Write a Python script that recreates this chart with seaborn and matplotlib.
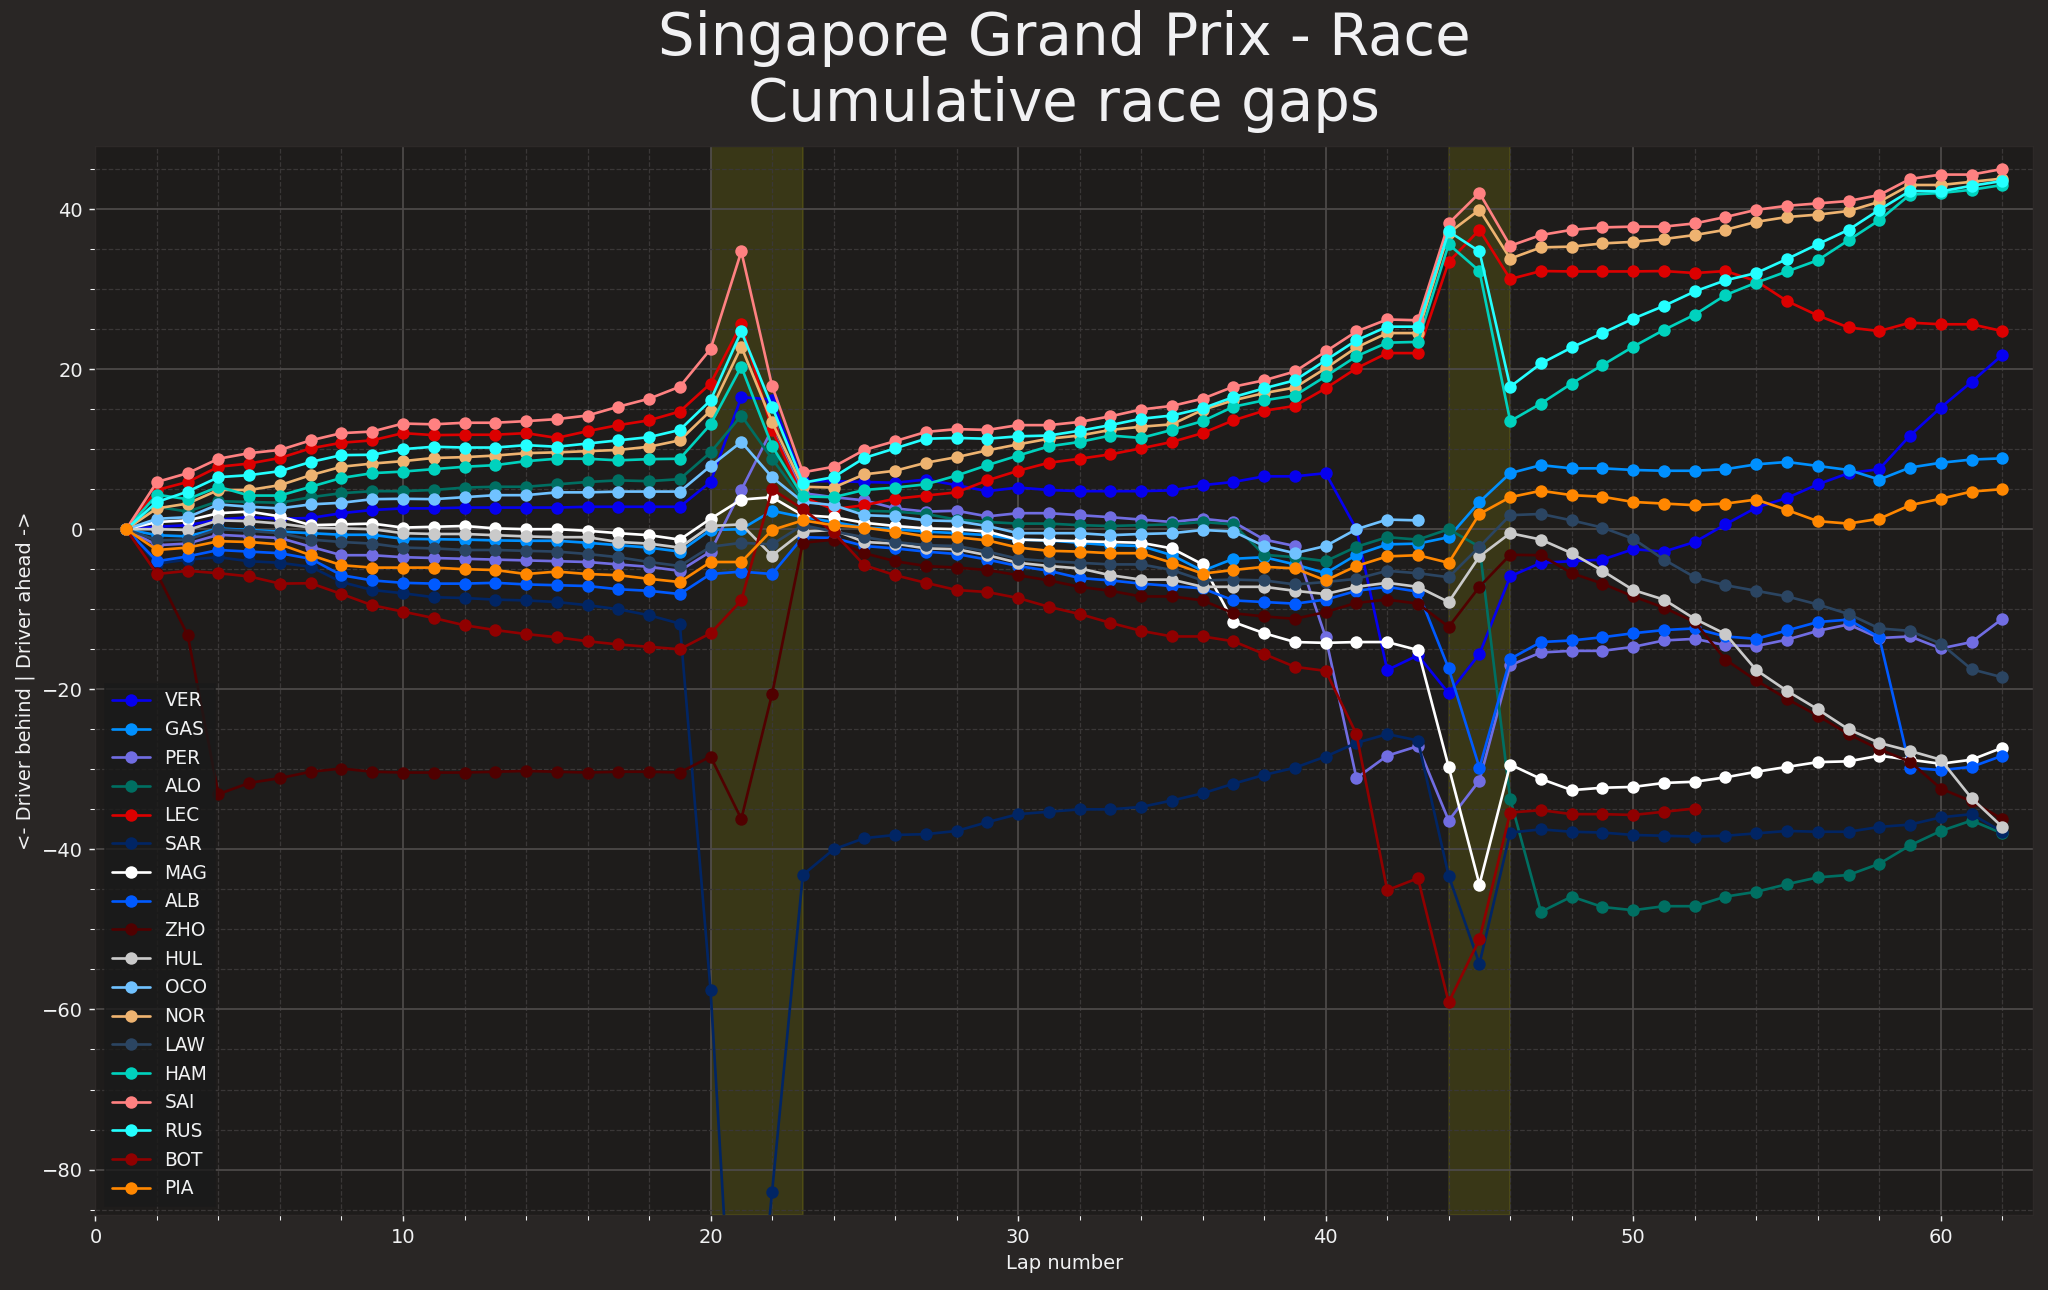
import numpy as np
import pandas as pd
import matplotlib
matplotlib.use("Agg")
import matplotlib.pyplot as plt
import seaborn as sns
from matplotlib.lines import Line2D
from matplotlib.ticker import MultipleLocator

# driver order as in the legend, colours per driver
drivers = ["VER", "GAS", "PER", "ALO", "LEC", "SAR", "MAG", "ALB", "ZHO",
           "HUL", "OCO", "NOR", "LAW", "HAM", "SAI", "RUS", "BOT", "PIA"]
driver_colors = ["#0600ef", "#0090ff", "#716de2", "#006f62", "#dc0000", "#012564",
                 "#ffffff", "#005aff", "#500000", "#cacaca", "#70c2ff", "#eeb370",
                 "#2b4562", "#00d2be", "#ff8181", "#24ffff", "#900000", "#ff8700"]

# cumulative gap per lap (lap 1 first), seconds
VER = [0, 0.3, 0.5, 1.2, 1.5, 1.3, 1.4, 2.0, 2.4, 2.6, 2.6, 2.7, 2.7, 2.7, 2.7, 2.8, 2.8, 2.8, 2.8, 5.9,
       16.5, 16.2, 6.0, 6.0, 5.9, 5.8, 6.2, 5.5, 4.75, 5.2, 4.9, 4.75, 4.75, 4.75, 4.85, 5.5, 5.9, 6.6, 6.6, 7.0,
       0.0, -17.6, -15.75, -20.5, -15.6, -5.9, -4.2, -4.0, -3.8, -2.5, -2.8, -1.6, 0.6, 2.7, 3.9, 5.6, 7.0, 7.5, 11.7, 15.2,
       18.4, 21.75]
GAS = [0, -0.75, -0.9, 0.1, -0.1, -0.3, -0.5, -0.7, -0.7, -1.2, -1.25, -1.3, -1.4, -1.45, -1.45, -1.7, -2.0, -2.3, -2.8, -0.1,
       0.0, 2.3, 1.5, 0.9, 0.2, 0.0, -0.3, -0.5, -0.75, -1.3, -1.4, -1.7, -2.0, -2.1, -3.25, -5.2, -3.7, -3.5, -4.4, -5.5,
       -3.2, -1.9, -1.8, -1.0, 3.4, 7.0, 8.0, 7.6, 7.6, 7.4, 7.3, 7.3, 7.5, 8.1, 8.4, 7.9, 7.4, 6.2, 7.7, 8.3,
       8.7, 8.85]
PER = [0, -2.0, -1.8, -0.7, -0.9, -1.1, -2.2, -3.25, -3.25, -3.5, -3.6, -3.7, -3.8, -3.9, -4.0, -4.1, -4.4, -4.7, -5.2, -2.8,
       4.9, 12.5, 4.5, 4.0, 3.6, 2.6, 2.2, 2.3, 1.6, 2.0, 2.0, 1.75, 1.5, 1.2, 0.9, 1.3, 0.9, -1.3, -2.1, -13.5,
       -31.1, -28.3, -27.1, -36.4, -31.4, -17.0, -15.4, -15.2, -15.2, -14.7, -13.9, -13.7, -14.5, -14.6, -13.8, -12.7, -11.9, -13.6, -13.4, -14.9,
       -14.1, -11.2]
ALO = [0, 2.8, 2.2, 3.5, 3.4, 3.3, 4.0, 4.5, 4.75, 4.75, 4.9, 5.2, 5.3, 5.3, 5.6, 5.9, 6.1, 6.0, 6.25, 9.6,
       14.2, 8.8, 3.6, 2.8, 2.3, 2.2, 1.9, 1.2, 0.9, 0.7, 0.7, 0.5, 0.4, 0.5, 0.6, 0.9, 0.6, -3.2, -3.5, -4.0,
       -2.2, -1.0, -1.3, 0.0, -2.2, -33.7, -47.8, -45.9, -47.2, -47.6, -47.1, -47.1, -45.9, -45.3, -44.35, -43.5, -43.2, -41.8, -39.5, -37.7,
       -36.4, -38.0]
LEC = [0, 4.9, 5.9, 7.8, 8.2, 8.9, 10.1, 10.8, 11.1, 12.0, 11.75, 11.8, 11.8, 12.0, 11.4, 12.25, 13.0, 13.6, 14.7, 18.2,
       25.6, 12.4, 4.0, 2.5, 3.0, 3.8, 4.2, 4.6, 6.1, 7.3, 8.3, 8.8, 9.35, 10.1, 10.9, 12.0, 13.6, 14.8, 15.4, 17.6,
       20.1, 22.0, 22.0, 33.4, 37.4, 31.25, 32.25, 32.2, 32.2, 32.2, 32.25, 32.0, 32.25, 31.0, 28.5, 26.7, 25.2, 24.75, 25.8, 25.6,
       25.6, 24.75]
SAR = [0, -4.3, -3.8, -3.5, -4.0, -4.2, -4.7, -6.6, -7.6, -8.0, -8.5, -8.6, -8.8, -8.9, -9.1, -9.5, -10.0, -10.75, -11.8, -57.6,
       -122.0, -82.8, -43.2, -40.0, -38.6, -38.2, -38.1, -37.7, -36.6, -35.6, -35.3, -35.0, -35.0, -34.7, -33.9, -33.0, -31.8, -30.7, -29.8, -28.4,
       -26.7, -25.6, -26.4, -43.3, -54.3, -37.9, -37.5, -37.8, -37.9, -38.2, -38.3, -38.4, -38.3, -38.0, -37.7, -37.8, -37.8, -37.2, -36.9, -36.0,
       -35.6, -37.8]
MAG = [0, 0.9, 1.1, 2.0, 2.2, 1.6, 0.5, 0.6, 0.7, 0.2, 0.3, 0.4, 0.1, 0.0, 0.0, -0.2, -0.5, -0.75, -1.3, 1.3,
       3.7, 4.0, 1.75, 1.5, 0.8, 0.4, 0.1, 0.0, -0.3, -1.3, -1.4, -1.5, -1.6, -1.7, -2.4, -4.4, -11.6, -13.0, -14.1, -14.2,
       -14.1, -14.1, -15.1, -29.7, -44.4, -29.4, -31.2, -32.6, -32.3, -32.2, -31.7, -31.55, -31.0, -30.3, -29.7, -29.1, -29.0, -28.3, -28.8, -29.3,
       -28.8, -27.3]
ALB = [0, -4.0, -3.4, -2.6, -2.8, -3.0, -3.7, -5.75, -6.4, -6.7, -6.8, -6.8, -6.7, -6.9, -7.0, -7.1, -7.5, -7.7, -8.1, -5.6,
       -5.3, -5.6, -1.0, -1.1, -2.1, -2.4, -2.8, -3.1, -3.8, -4.6, -5.2, -6.1, -6.4, -6.8, -7.1, -7.4, -8.9, -9.1, -9.3, -8.8,
       -7.7, -7.2, -7.8, -17.4, -29.8, -16.2, -14.1, -13.9, -13.5, -13.0, -12.6, -12.4, -13.4, -13.7, -12.65, -11.6, -11.3, -13.5, -29.8, -30.1,
       -29.7, -28.3]
ZHO = [0, -5.5, -13.25, -33.1, -31.7, -31.1, -30.3, -29.9, -30.3, -30.4, -30.4, -30.4, -30.3, -30.2, -30.3, -30.4, -30.3, -30.3, -30.4, -28.4,
       -36.2, -20.6, -1.7, -1.3, -3.0, -4.0, -4.6, -4.8, -5.1, -5.75, -6.4, -7.2, -7.7, -8.4, -8.4, -8.9, -10.5, -10.9, -11.2, -10.35,
       -9.2, -8.8, -9.3, -12.2, -7.2, -3.2, -3.25, -5.5, -6.8, -8.4, -9.8, -11.6, -16.3, -18.9, -21.2, -23.3, -25.6, -27.5, -29.05, -32.4,
       -34.0, -36.2]
HUL = [0, 0.0, -0.1, 1.1, 1.0, 0.7, 0.2, 0.1, 0.0, -0.5, -0.6, -0.6, -0.75, -0.9, -1.0, -1.0, -1.6, -1.8, -2.3, 0.4,
       0.6, -3.3, -0.3, -0.1, -1.6, -1.8, -2.4, -2.5, -3.25, -4.2, -4.6, -4.9, -5.75, -6.3, -6.3, -7.2, -7.2, -7.2, -7.7, -8.1,
       -7.2, -6.7, -7.2, -9.1, -3.4, -0.5, -1.3, -3.0, -5.2, -7.6, -8.8, -11.2, -13.1, -17.6, -20.2, -22.5, -25.0, -26.7, -27.7, -28.8,
       -33.6, -37.2]
OCO = [0, 1.3, 1.5, 3.1, 2.8, 2.6, 3.1, 3.3, 3.75, 3.8, 3.75, 4.0, 4.25, 4.25, 4.6, 4.6, 4.7, 4.7, 4.7, 7.9,
       10.9, 6.5, 3.4, 3.0, 1.75, 1.6, 1.1, 1.0, 0.4, -0.5, -0.5, -0.5, -0.75, -0.6, -0.5, -0.1, -0.3, -2.1, -3.0, -2.1,
       0.0, 1.2, 1.1]
NOR = [0, 2.6, 3.2, 4.9, 4.9, 5.5, 6.75, 7.8, 8.2, 8.5, 8.9, 9.0, 9.2, 9.5, 9.6, 9.75, 9.9, 10.3, 11.1, 14.8,
       22.8, 13.4, 5.3, 5.2, 6.85, 7.3, 8.3, 9.0, 9.85, 10.6, 11.3, 11.7, 12.4, 12.8, 13.1, 14.9, 16.1, 17.0, 17.7, 20.1,
       22.7, 24.5, 24.5, 37.0, 39.9, 33.8, 35.2, 35.3, 35.7, 35.9, 36.25, 36.75, 37.4, 38.4, 39.0, 39.3, 39.75, 40.9, 43.0, 43.0,
       43.4, 43.8]
LAW = [0, -1.4, -1.3, 0.0, -0.2, -0.5, -1.3, -1.6, -1.8, -2.3, -2.4, -2.6, -2.6, -2.7, -2.8, -3.1, -3.5, -4.1, -4.6, -2.2,
       -1.7, -1.9, 0.5, -0.3, -1.0, -1.6, -2.0, -2.1, -2.8, -3.7, -4.0, -4.2, -4.4, -4.4, -5.1, -6.4, -6.3, -6.4, -6.9, -6.6,
       -6.2, -5.2, -5.5, -6.0, -2.2, 1.75, 1.9, 1.1, 0.2, -1.2, -3.8, -6.0, -7.0, -7.7, -8.4, -9.4, -10.6, -12.4, -12.7, -14.3,
       -17.5, -18.5]
HAM = [0, 4.3, 3.75, 5.3, 4.2, 4.2, 5.3, 6.4, 7.0, 7.2, 7.5, 7.8, 8.0, 8.5, 8.8, 8.8, 8.6, 8.75, 8.8, 13.1,
       20.3, 10.4, 4.1, 4.0, 4.9, 5.2, 5.6, 6.7, 8.0, 9.2, 10.35, 10.9, 11.7, 11.4, 12.4, 13.5, 15.3, 16.1, 16.7, 19.1,
       21.6, 23.3, 23.4, 35.6, 32.25, 13.5, 15.7, 18.2, 20.5, 22.8, 24.9, 26.8, 29.25, 30.8, 32.2, 33.6, 36.1, 38.6, 41.8, 42.0,
       42.4, 43.0]
SAI = [0, 5.9, 7.0, 8.8, 9.5, 9.9, 11.1, 12.0, 12.2, 13.2, 13.1, 13.3, 13.3, 13.5, 13.75, 14.2, 15.3, 16.3, 17.8, 22.5,
       34.7, 17.9, 7.1, 7.8, 9.9, 11.0, 12.15, 12.5, 12.4, 13.0, 13.0, 13.4, 14.1, 14.95, 15.4, 16.3, 17.8, 18.6, 19.7, 22.2,
       24.7, 26.2, 26.1, 38.2, 42.0, 35.4, 36.75, 37.4, 37.7, 37.8, 37.8, 38.2, 39.0, 39.9, 40.4, 40.7, 41.0, 41.75, 43.75, 44.3,
       44.3, 45.0]
RUS = [0, 3.4, 4.7, 6.5, 6.75, 7.25, 8.4, 9.25, 9.3, 10.0, 10.3, 10.2, 10.2, 10.5, 10.3, 10.7, 11.1, 11.5, 12.4, 16.1,
       24.7, 15.3, 5.8, 6.5, 8.9, 10.1, 11.3, 11.4, 11.3, 11.6, 11.7, 12.3, 13.0, 13.8, 14.2, 15.1, 16.5, 17.6, 18.6, 21.1,
       23.6, 25.3, 25.3, 37.2, 34.7, 17.8, 20.7, 22.7, 24.5, 26.3, 27.9, 29.7, 31.1, 32.0, 33.75, 35.6, 37.4, 39.9, 42.25, 42.2,
       42.9, 43.5]
BOT = [0, -5.6, -5.2, -5.5, -5.9, -6.8, -6.75, -8.1, -9.5, -10.3, -11.1, -12.0, -12.6, -13.1, -13.5, -14.0, -14.4, -14.7, -15.0, -13.0,
       -8.9, 5.0, 2.5, -0.4, -4.5, -5.75, -6.7, -7.6, -7.85, -8.6, -9.7, -10.6, -11.7, -12.7, -13.4, -13.4, -14.0, -15.6, -17.2, -17.7,
       -25.6, -45.1, -43.6, -59.1, -51.25, -35.4, -35.1, -35.6, -35.6, -35.7, -35.3, -34.9]
PIA = [0, -2.6, -2.3, -1.5, -1.6, -1.9, -3.25, -4.5, -4.8, -4.8, -4.8, -5.0, -5.1, -5.6, -5.3, -5.6, -5.75, -6.2, -6.6, -4.1,
       -4.1, -0.1, 1.1, 0.5, 0.2, -0.3, -0.9, -1.0, -1.4, -2.3, -2.7, -2.8, -3.0, -3.0, -4.2, -5.55, -5.1, -4.7, -4.9, -6.4,
       -4.6, -3.4, -3.25, -4.2, 1.9, 4.0, 4.8, 4.25, 4.05, 3.4, 3.2, 3.0, 3.2, 3.7, 2.4, 1.0, 0.7, 1.3, 3.0, 3.8,
       4.7, 5.0]

# safety car / vsc periods (lap ranges)
sc_periods = [(20, 23), (44, 46)]

gaps = {"VER": VER, "GAS": GAS, "PER": PER, "ALO": ALO, "LEC": LEC, "SAR": SAR,
        "MAG": MAG, "ALB": ALB, "ZHO": ZHO, "HUL": HUL, "OCO": OCO, "NOR": NOR,
        "LAW": LAW, "HAM": HAM, "SAI": SAI, "RUS": RUS, "BOT": BOT, "PIA": PIA}

rows = []
for drv in drivers:
    for lap, gap in enumerate(gaps[drv], start=1):
        rows.append((drv, lap, gap))
df = pd.DataFrame(rows, columns=["Driver", "LapNumber", "Gap"])

sns.set_style("dark")
plt.rcParams.update({
    "figure.facecolor": "#292625",
    "axes.facecolor": "#1e1c1b",
    "axes.edgecolor": "#2d2928",
    "xtick.color": "#f1f2f3",
    "ytick.color": "#f1f2f3",
    "axes.labelcolor": "#f1f2f3",
    "text.color": "#f1f1f3",
    "font.family": ["DejaVu Sans"],
})

fig, ax = plt.subplots(figsize=(16, 10.078125), dpi=128)
fig.subplots_adjust(left=0.0466, right=0.9927, top=0.887, bottom=0.058)

palette = dict(zip(drivers, driver_colors))
sns.lineplot(data=df, x="LapNumber", y="Gap", hue="Driver", hue_order=drivers,
             palette=palette, marker="o", markersize=7, markeredgewidth=0,
             linewidth=1.5, legend=False, errorbar=None, ax=ax)

for start, end in sc_periods:
    ax.axvspan(start, end, color="yellow", alpha=0.12, zorder=0.5)

ax.set_xlim(0, 63)
ax.set_ylim(-85.7, 47.9)
ax.xaxis.set_major_locator(MultipleLocator(10))
ax.xaxis.set_minor_locator(MultipleLocator(2))
ax.yaxis.set_major_locator(MultipleLocator(20))
ax.yaxis.set_minor_locator(MultipleLocator(5))
ax.tick_params(which="both", direction="out", bottom=True, left=True, labelsize=11)
ax.tick_params(which="minor", length=3)
ax.set_axisbelow(True)
ax.grid(which="major", color="#4d4949", linestyle="-", linewidth=1.0)
ax.grid(which="minor", color="#3a3737", linestyle="--", linewidth=0.7)
for sp in ax.spines.values():
    sp.set_color("#2d2928")

ax.set_xlabel("Lap number", fontsize=11)
ax.set_ylabel("<- Driver behind | Driver ahead ->", fontsize=11)
ax.set_title("Singapore Grand Prix - Race\nCumulative race gaps", fontsize=32.5, pad=14)

handles = [Line2D([0], [0], color=c, marker="o", markersize=7, markeredgewidth=0, linewidth=1.5)
           for c in driver_colors]
leg = ax.legend(handles, drivers, loc="lower left", fontsize=10.5, fancybox=False,
                labelspacing=0.52, facecolor=(0.1, 0.1, 0.1, 0.7),
                edgecolor=(0.1, 0.1, 0.1, 0.9), labelcolor="#f1f2f3")

fig.savefig("out.png", dpi=128, facecolor=fig.get_facecolor())
